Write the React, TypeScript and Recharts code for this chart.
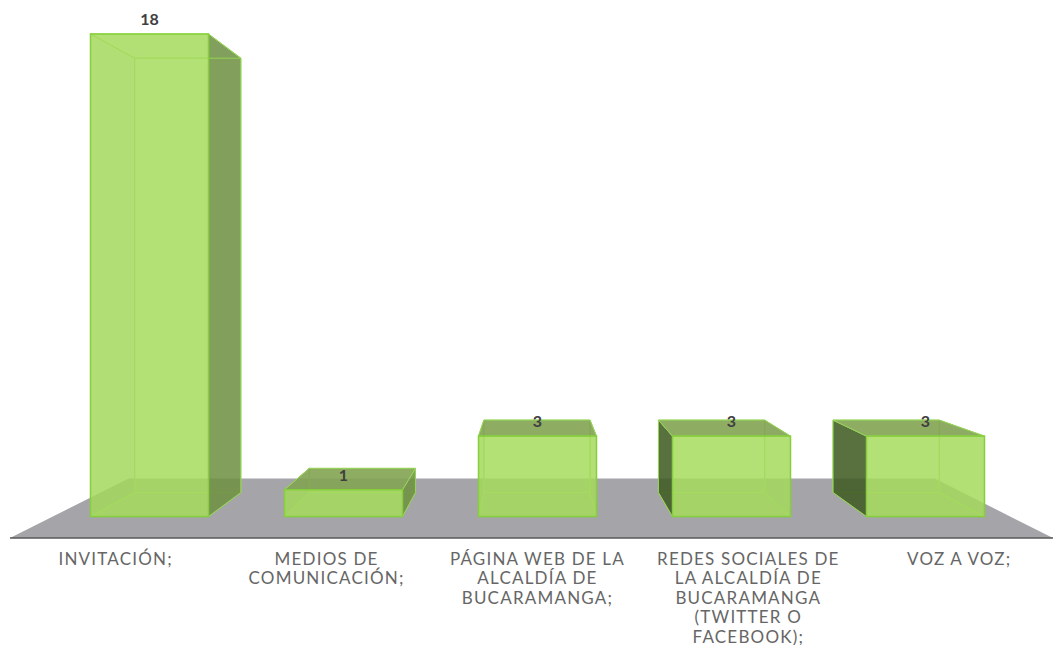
import React from 'react';
import { BarChart, Bar, XAxis, YAxis, LabelList, ReferenceArea } from 'recharts';

const categories = [
  'INVITACIÓN;',
  'MEDIOS DE COMUNICACIÓN;',
  'PÁGINA WEB DE LA ALCALDÍA DE BUCARAMANGA;',
  'REDES SOCIALES DE LA ALCALDÍA DE BUCARAMANGA (TWITTER O FACEBOOK);',
  'VOZ A VOZ;',
];
const values = [18, 1, 3, 3, 3];
const tickLines = [
  ['INVITACIÓN;'],
  ['MEDIOS DE', 'COMUNICACIÓN;'],
  ['PÁGINA WEB DE LA', 'ALCALDÍA DE', 'BUCARAMANGA;'],
  ['REDES SOCIALES DE', 'LA ALCALDÍA DE', 'BUCARAMANGA', '(TWITTER O', 'FACEBOOK);'],
  ['VOZ A VOZ;'],
];

const data = categories.map((name, i) => ({ name, value: values[i] }));

// fake 3D: vanishing point of the box perspective
const VX = 532;
const VY = 276;
const DEPTH = 0.9;
const PAD_LEFT = 42.5;
const PAD_RIGHT = 30.5;
const back = (x: number, y: number) => [VX + DEPTH * (x - VX), VY + DEPTH * (y - VY)];
const poly = (pts: number[][]) => pts.map((p) => p.join(',')).join(' ');

const EDGE = '#97d65a';

function Box3D({ x, y, width, height }: any) {
  const r = x + width;
  const b = y + height;
  const tl = back(x, y);
  const tr = back(r, y);
  const bl = back(x, b);
  const br = back(r, b);
  const edge = { stroke: EDGE, strokeWidth: 1, strokeLinejoin: 'round' as const };
  // faces hidden behind the front only tint it a little
  const hidden = 0.08;
  return (
    <g>
      <polygon points={poly([tl, tr, br, bl])} fill="#a6db5d" fillOpacity={hidden} {...edge} />
      <polygon points={poly([[x, b], [r, b], br, bl])} fill="#a6db5d" fillOpacity={hidden} {...edge} />
      <polygon points={poly([[x, y], [x, b], bl, tl])} fill="#3f5a22" fillOpacity={tl[0] < x ? 0.86 : hidden} {...edge} />
      <polygon points={poly([[r, y], [r, b], br, tr])} fill="#6d8f42" fillOpacity={tr[0] > r ? 0.85 : hidden} {...edge} />
      <polygon points={poly([[x, y], [r, y], tr, tl])} fill="#83a353" fillOpacity={tl[1] < y ? 0.9 : hidden} {...edge} />
      <rect x={x} y={y} width={width} height={height} fill="#a6db5d" fillOpacity={0.84} stroke="#86cf3c" strokeWidth={1.5} />
    </g>
  );
}

function Floor({ x, y, width, height }: any) {
  const bottom = y + height;
  const x0 = x - PAD_LEFT;
  const x1 = x + width + PAD_RIGHT;
  const k = (y - VY) / (bottom - VY);
  const left = VX + k * (x0 - VX);
  const right = VX + k * (x1 - VX);
  return <polygon points={poly([[left, y], [right, y], [x1, bottom], [x0, bottom]])} fill="#a5a4a9" />;
}

function CategoryTick({ x, y, index }: any) {
  // labels sit on the floor's front edge, so they spread wider than the bars
  const cx = 538 + (x - 538) * 1.087;
  return (
    <text
      x={cx}
      y={y}
      textAnchor="middle"
      fill="#666666"
      fontFamily="Lato, sans-serif"
      fontSize={17}
      letterSpacing={1.2}
    >
      {tickLines[index].map((line, i) => (
        <tspan key={line} x={cx} dy={i === 0 ? 18.5 : 19.5}>
          {line}
        </tspan>
      ))}
    </text>
  );
}

export default function App() {
  return (
    <div style={{ position: 'absolute', left: 0, top: 0, width: 1053, height: 645, background: '#fff' }}>
      <BarChart
        width={1053}
        height={645}
        data={data}
        barSize={118}
        margin={{ top: 34, right: 0, bottom: 0, left: 10 }}
      >
        <ReferenceArea y1={-0.8} y2={1.42} shape={Floor} ifOverflow="visible" />
        <XAxis
          dataKey="name"
          interval={0}
          height={107}
          padding={{ left: PAD_LEFT, right: PAD_RIGHT }}
          tickLine={false}
          axisLine={{ stroke: '#595959', strokeWidth: 1.5 }}
          tick={CategoryTick}
        />
        <YAxis hide domain={[-0.8, 18]} />
        <Bar dataKey="value" shape={Box3D} isAnimationActive={false}>
          <LabelList
            dataKey="value"
            position="top"
            offset={9}
            fill="#404040"
            fontFamily="Lato, sans-serif"
            fontWeight={700}
            fontSize={16}
          />
        </Bar>
      </BarChart>
    </div>
  );
}
